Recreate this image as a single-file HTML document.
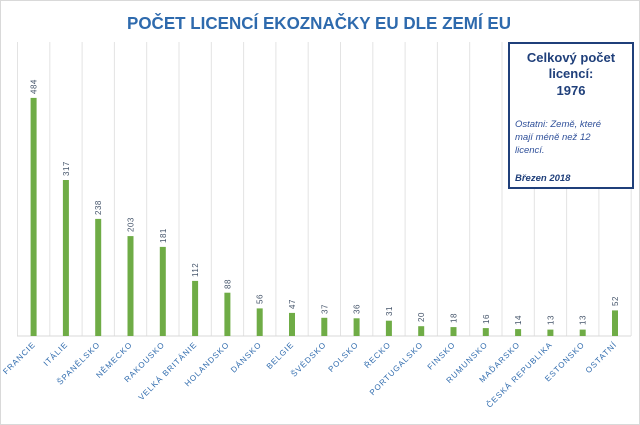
<!DOCTYPE html>
<html><head><meta charset="utf-8"><style>
html,body{margin:0;padding:0;background:#fff;}
svg{display:block;font-family:"Liberation Sans",sans-serif;}
.v{font-size:8px;fill:#44546a;letter-spacing:0.5px;}
.c{font-size:8px;fill:#2e6aad;letter-spacing:1px;}
</style></head><body>
<svg width="640" height="425" viewBox="0 0 640 425">
<rect x="0.5" y="0.5" width="639" height="424" fill="#fff" stroke="#d9d9d9"/>
<text x="127" y="29" font-size="17.5" font-weight="bold" fill="#2e6aad" textLength="384" lengthAdjust="spacingAndGlyphs">POČET LICENCÍ EKOZNAČKY EU DLE ZEMÍ EU</text>
<g stroke="#e3e3e3" stroke-width="1">
<line x1="17.5" y1="42" x2="17.5" y2="336"/><line x1="49.8" y1="42" x2="49.8" y2="336"/><line x1="82.1" y1="42" x2="82.1" y2="336"/><line x1="114.4" y1="42" x2="114.4" y2="336"/><line x1="146.7" y1="42" x2="146.7" y2="336"/><line x1="179" y1="42" x2="179" y2="336"/><line x1="211.3" y1="42" x2="211.3" y2="336"/><line x1="243.6" y1="42" x2="243.6" y2="336"/><line x1="275.9" y1="42" x2="275.9" y2="336"/><line x1="308.2" y1="42" x2="308.2" y2="336"/><line x1="340.5" y1="42" x2="340.5" y2="336"/><line x1="372.8" y1="42" x2="372.8" y2="336"/><line x1="405.1" y1="42" x2="405.1" y2="336"/><line x1="437.4" y1="42" x2="437.4" y2="336"/><line x1="469.7" y1="42" x2="469.7" y2="336"/><line x1="502" y1="42" x2="502" y2="336"/><line x1="534.3" y1="42" x2="534.3" y2="336"/><line x1="566.6" y1="42" x2="566.6" y2="336"/><line x1="598.9" y1="42" x2="598.9" y2="336"/><line x1="631.2" y1="42" x2="631.2" y2="336"/>
<line x1="17" y1="336" x2="631" y2="336" stroke="#d9d9d9"/>
</g>
<g fill="#6fac46">
<rect x="30.6" y="97.9" width="6" height="238.1"/>
<rect x="62.9" y="180" width="6" height="156"/>
<rect x="95.2" y="218.9" width="6" height="117.1"/>
<rect x="127.5" y="236.1" width="6" height="99.9"/>
<rect x="159.8" y="246.9" width="6" height="89.1"/>
<rect x="192.1" y="280.9" width="6" height="55.1"/>
<rect x="224.4" y="292.7" width="6" height="43.3"/>
<rect x="256.7" y="308.4" width="6" height="27.6"/>
<rect x="289" y="312.9" width="6" height="23.1"/>
<rect x="321.3" y="317.8" width="6" height="18.2"/>
<rect x="353.6" y="318.3" width="6" height="17.7"/>
<rect x="385.9" y="320.7" width="6" height="15.3"/>
<rect x="418.2" y="326.2" width="6" height="9.8"/>
<rect x="450.5" y="327.1" width="6" height="8.9"/>
<rect x="482.8" y="328.1" width="6" height="7.9"/>
<rect x="515.1" y="329.1" width="6" height="6.9"/>
<rect x="547.4" y="329.6" width="6" height="6.4"/>
<rect x="579.7" y="329.6" width="6" height="6.4"/>
<rect x="612" y="310.4" width="6" height="25.6"/>
</g>
<g class="v">
<text transform="translate(36.6,94) rotate(-90)">484</text>
<text transform="translate(68.9,176) rotate(-90)">317</text>
<text transform="translate(101.2,215) rotate(-90)">238</text>
<text transform="translate(133.5,232) rotate(-90)">203</text>
<text transform="translate(165.8,243) rotate(-90)">181</text>
<text transform="translate(198.1,277) rotate(-90)">112</text>
<text transform="translate(230.4,289) rotate(-90)">88</text>
<text transform="translate(262.7,304) rotate(-90)">56</text>
<text transform="translate(295,309) rotate(-90)">47</text>
<text transform="translate(327.3,314) rotate(-90)">37</text>
<text transform="translate(359.6,314) rotate(-90)">36</text>
<text transform="translate(391.9,316) rotate(-90)">31</text>
<text transform="translate(424.2,322) rotate(-90)">20</text>
<text transform="translate(456.5,323) rotate(-90)">18</text>
<text transform="translate(488.8,324) rotate(-90)">16</text>
<text transform="translate(521.1,325) rotate(-90)">14</text>
<text transform="translate(553.4,325) rotate(-90)">13</text>
<text transform="translate(585.7,325) rotate(-90)">13</text>
<text transform="translate(618,306) rotate(-90)">52</text>
</g>
<g class="c" text-anchor="end">
<text transform="translate(36,345) rotate(-45)">FRANCIE</text>
<text transform="translate(68.3,345) rotate(-45)">ITÁLIE</text>
<text transform="translate(100.6,345) rotate(-45)">ŠPANĚLSKO</text>
<text transform="translate(132.9,345) rotate(-45)">NĚMECKO</text>
<text transform="translate(165.2,345) rotate(-45)">RAKOUSKO</text>
<text transform="translate(197.5,345) rotate(-45)">VELKÁ BRITÁNIE</text>
<text transform="translate(229.8,345) rotate(-45)">HOLANDSKO</text>
<text transform="translate(262.1,345) rotate(-45)">DÁNSKO</text>
<text transform="translate(294.4,345) rotate(-45)">BELGIE</text>
<text transform="translate(326.7,345) rotate(-45)">ŠVÉDSKO</text>
<text transform="translate(359,345) rotate(-45)">POLSKO</text>
<text transform="translate(391.3,345) rotate(-45)">ŘECKO</text>
<text transform="translate(423.6,345) rotate(-45)">PORTUGALSKO</text>
<text transform="translate(455.9,345) rotate(-45)">FINSKO</text>
<text transform="translate(488.2,345) rotate(-45)">RUMUNSKO</text>
<text transform="translate(520.5,345) rotate(-45)">MAĎARSKO</text>
<text transform="translate(552.8,345) rotate(-45)">ČESKÁ REPUBLIKA</text>
<text transform="translate(585.1,345) rotate(-45)">ESTONSKO</text>
<text transform="translate(617.4,345) rotate(-45)">OSTATNÍ</text>
</g>
<rect x="509" y="43" width="124" height="145" fill="#fff" stroke="#1f3f7a" stroke-width="2"/>
<g fill="#1f3f7a" font-weight="bold" font-size="13" text-anchor="middle">
<text x="571" y="62">Celkový počet</text>
<text x="571" y="78">licencí:</text>
<text x="571" y="95">1976</text>
</g>
<g fill="#2e4f99" font-style="italic" font-size="9.5">
<text x="515" y="127">Ostatni: Země, které</text>
<text x="515" y="140">mají méně než 12</text>
<text x="515" y="153">licencí.</text>
<text x="515" y="181" font-weight="bold" fill="#1f3f7a">Březen 2018</text>
</g>
</svg>
</body></html>
